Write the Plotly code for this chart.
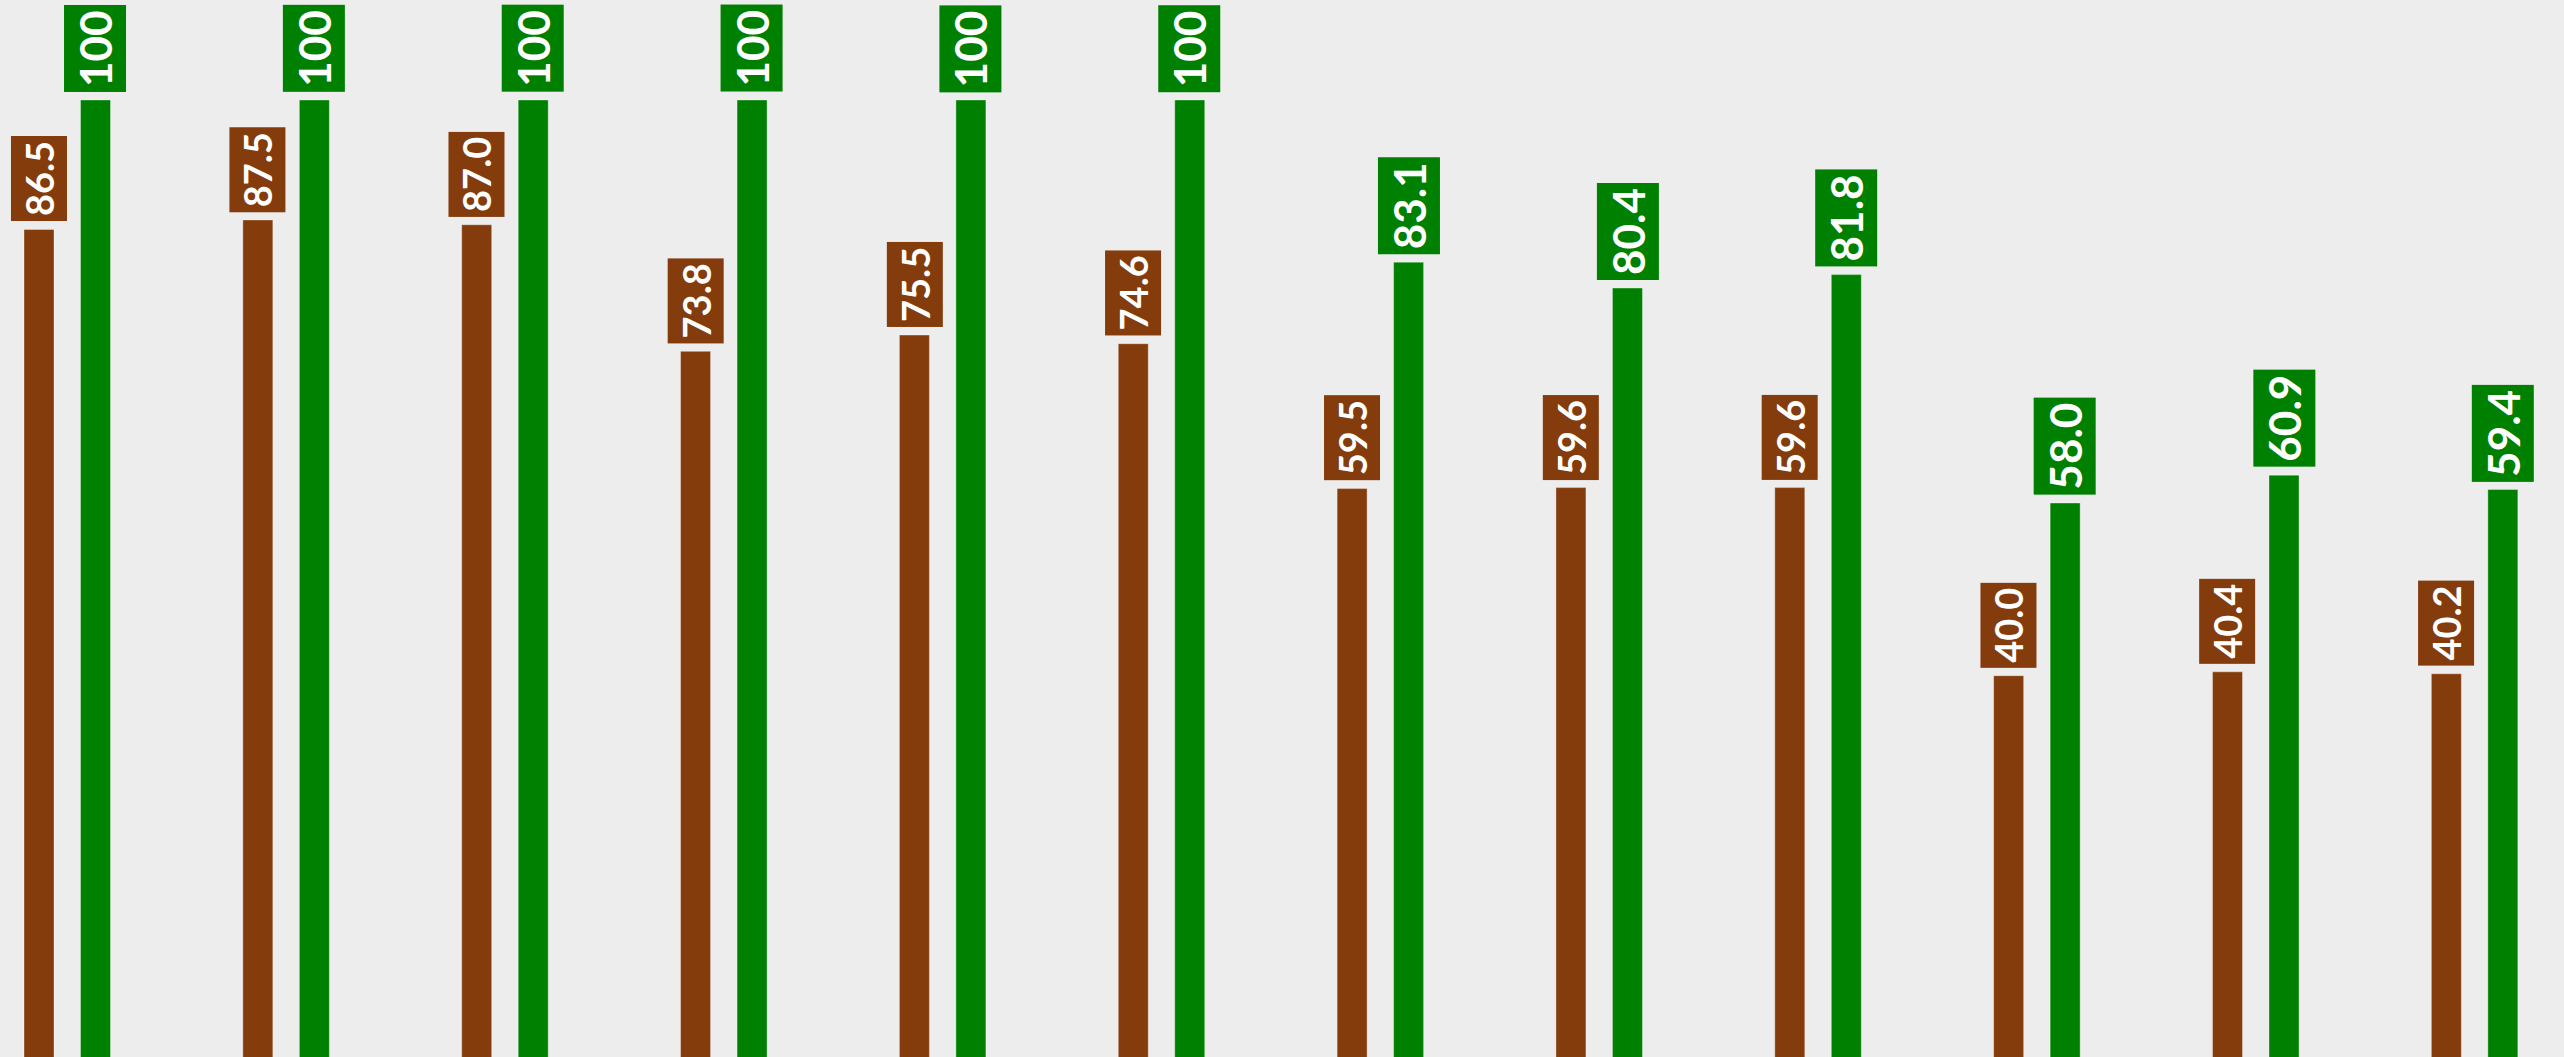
"""Grouped bar chart: paired values with rotated labels in coloured boxes"""

import plotly.graph_objects as go

# data
categories = ["G1", "G2", "G3", "G4", "G5", "G6",
              "G7", "G8", "G9", "G10", "G11", "G12"]
brown_values = [86.5, 87.5, 87.0, 73.8, 75.5, 74.6, 59.5, 59.6, 59.6, 40.0, 40.4, 40.2]
green_values = [100, 100, 100, 100, 100, 100, 83.1, 80.4, 81.8, 58.0, 60.9, 59.4]

BROWN = "#843c0c"
GREEN = "#008000"
BG = "#ededed"


def _label(v):
    return "100" if v >= 100 else f"{v:.1f}"


fig = go.Figure()
for vals, color in ((brown_values, BROWN), (green_values, GREEN)):
    fig.add_trace(go.Bar(
        x=categories,
        y=vals,
        marker=dict(color=color,
                    line=dict(color="rgba(255,255,255,0.35)", width=1)),
        hoverinfo="skip",
    ))

# 标签：旋转 -90 度、带底色的小框
for vals, color, shift, size in ((brown_values, BROWN, -28.25, 38),
                                 (green_values, GREEN, 28.25, 44)):
    for i, v in enumerate(vals):
        fig.add_annotation(
            x=i, y=v, xref="x", yref="y",
            text=f"<b>{_label(v)}</b>",
            showarrow=False,
            textangle=-90,
            xanchor="center", yanchor="bottom",
            xshift=shift, yshift=8,
            bgcolor=color,
            borderpad=5, borderwidth=0,
            font=dict(family="Lato, Open Sans, sans-serif", size=size,
                      color="white"),
        )

fig.update_layout(
    width=2564, height=1057,
    barmode="group",
    bargap=0.4837,
    bargroupgap=0.469,
    showlegend=False,
    paper_bgcolor=BG,
    plot_bgcolor=BG,
    margin=dict(l=0, r=0, t=0, b=0),
    xaxis=dict(range=[-0.3073, 11.4085], visible=False),
    yaxis=dict(range=[0.26, 110.42], visible=False),
)

fig.write_html("out.html",
               config={"displayModeBar": False},
               post_script="document.body.style.margin='0';"
                           "document.body.style.overflow='hidden';")
